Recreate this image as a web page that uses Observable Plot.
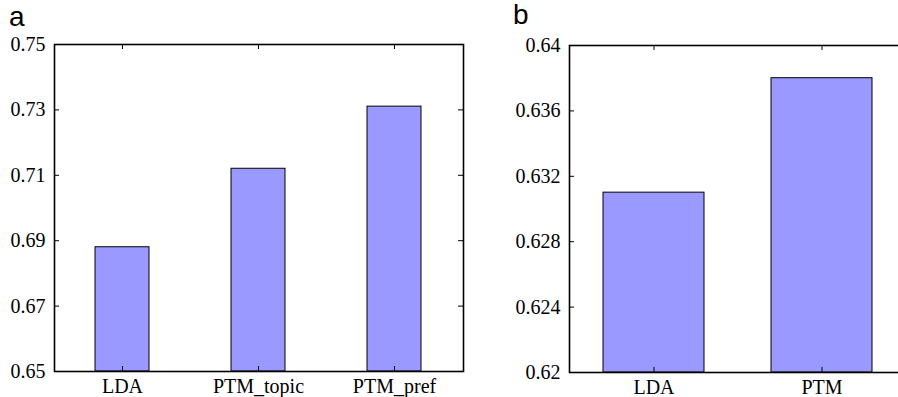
<!DOCTYPE html>
<html><head><meta charset="utf-8">
<script src="https://cdn.jsdelivr.net/npm/d3@7"></script>
<script src="https://cdn.jsdelivr.net/npm/@observablehq/plot@0.6"></script>
<style>
body{margin:0;background:#fff}
#wrap{position:relative;width:898px;height:397px;overflow:hidden;background:#fff}
.panel{position:absolute;top:0}
#wrap svg text{font-family:"Liberation Serif","Times New Roman",serif !important;font-size:20px !important;fill:#000}
.lab{position:absolute;font-family:"Liberation Sans",Arial,sans-serif;font-size:28px;line-height:1;color:#000}
</style></head>
<body><div id="wrap"></div>
<script>
const catsA = ["LDA", "PTM_topic", "PTM_pref"];
const valsA = [0.688, 0.712, 0.731];
const ticksA = [0.65, 0.67, 0.69, 0.71, 0.73, 0.75];
const domainA = [0.65, 0.75];

const catsB = ["LDA", "PTM"];
const valsB = [0.631, 0.638];
const ticksB = [0.62, 0.624, 0.628, 0.632, 0.636, 0.64];
const domainB = [0.62, 0.64];

const panelLabels = ["a", "b"];

function panel({cats, vals, ticks, domain, width, ml, mr, mt, mb, padInner}) {
  const data = cats.map((c, i) => ({c, v: vals[i]}));
  const H = 397;
  const fw = width - ml - mr, fh = H - mt - mb;
  const t = 5;
  return Plot.plot({
    width, height: H,
    marginLeft: ml, marginRight: mr, marginTop: mt, marginBottom: mb,
    style: {background: "transparent", color: "#000", overflow: "visible"},
    x: {type: "band", domain: cats, paddingInner: padInner, paddingOuter: padInner / 2, label: null},
    y: {domain, label: null},
    marks: [
      Plot.barY(data, {x: "c", y1: domain[0], y2: "v", fill: "#9999ff", stroke: "#000", strokeWidth: 1}),
      Plot.ruleY(ticks, {y: d => d, insetRight: fw - t, stroke: "#000", strokeWidth: 1}),
      Plot.ruleY(ticks, {y: d => d, insetLeft: fw - t, stroke: "#000", strokeWidth: 1}),
      Plot.ruleX(cats, {x: d => d, insetBottom: fh - t, stroke: "#000", strokeWidth: 1}),
      Plot.ruleX(cats, {x: d => d, insetTop: fh - t, stroke: "#000", strokeWidth: 1}),
      Plot.frame({stroke: "#000", strokeWidth: 1.6}),
      Plot.axisY(ticks, {tickSize: 0, tickPadding: 9, tickFormat: d => String(d), fill: "#000"}),
      Plot.axisX({tickSize: 0, tickPadding: 7, fill: "#000"})
    ]
  });
}

const wrap = document.getElementById("wrap");

const a = panel({cats: catsA, vals: valsA, ticks: ticksA, domain: domainA, width: 470, ml: 54, mr: 7, mt: 44, mb: 26, padInner: 0.6});
a.classList.add("panel"); a.style.left = "0px";
wrap.appendChild(a);

const b = panel({cats: catsB, vals: valsB, ticks: ticksB, domain: domainB, width: 460, ml: 119, mr: 5, mt: 45, mb: 25, padInner: 0.4});
b.classList.add("panel"); b.style.left = "450px";
wrap.appendChild(b);

const la = document.createElement("div");
la.className = "lab"; la.textContent = panelLabels[0];
la.style.left = "9px"; la.style.top = "3px";
wrap.appendChild(la);

const lb = document.createElement("div");
lb.className = "lab"; lb.textContent = panelLabels[1];
lb.style.left = "513px"; lb.style.top = "1px";
wrap.appendChild(lb);
</script>
</body></html>
